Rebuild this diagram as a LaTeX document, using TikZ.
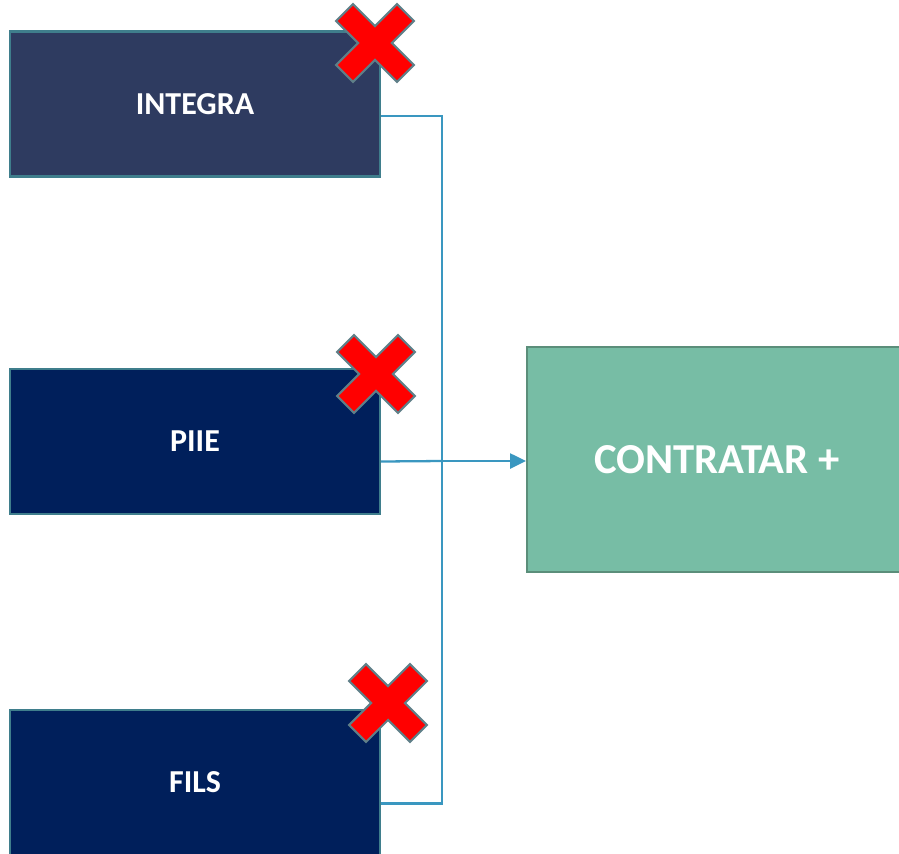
\documentclass[tikz,border=0pt]{standalone}
\usepackage{fontspec}
\setmainfont{Carlito}
\usetikzlibrary{arrows.meta,calc}
\definecolor{slatenavy}{HTML}{2E3B60}
\definecolor{deepnavy}{HTML}{001F5B}
\definecolor{boxedge}{HTML}{3F7E8C}
\definecolor{mint}{HTML}{77BDA5}
\definecolor{mintedge}{HTML}{5B8E7A}
\definecolor{linkblue}{HTML}{3A97C0}
\definecolor{markedge}{HTML}{5F7F88}
\tikzset{
  source/.style={draw=boxedge, line width=1.2pt, inner sep=0pt,
    minimum width=7.4cm, minimum height=2.9cm, text=white,
    font=\bfseries\fontsize{18.2}{20}\selectfont},
  target/.style={draw=mintedge, fill=mint, line width=1.2pt, inner sep=0pt,
    minimum width=7.6cm, minimum height=4.5cm, text=white,
    font=\bfseries\fontsize{24.3}{27}\selectfont},
  link/.style={draw=linkblue, line width=1.3pt},
  xmark/.style={fill=red, draw=markedge, line width=1.2pt, line join=miter}
}
\begin{document}
\begin{tikzpicture}[x=0.02cm,y=-0.02cm]
\useasboundingbox (0,0) rectangle (899,853);

\node[source, fill=slatenavy] (integra) at (195,104) {INTEGRA};
\node[source, fill=deepnavy] (piie) at (195,441.5) {PIIE};
\node[source, fill=deepnavy] (fils) at (195,782.5) {FILS};
\node[target] (contratar) at (717,459.5) {CONTRATAR +};

\coordinate (bus) at (442,461);
\draw[link] ($(integra.east)+(0,12)$) -| (bus) |- ($(fils.east)+(0,21)$);
\draw[link] ($(piie.east)+(0,20)$) -- (bus);
\draw[link, -{Triangle[length=9pt,width=8.5pt]}] (bus) -- (contratar.west |- bus);

% red crosses
\foreach \cx/\cy in {375/43,376/374,388/703}
{
\begin{scope}[shift={(\cx,\cy)},rotate=45]
\draw[xmark] (43,12) -- (43,-12) -- (12,-12) -- (12,-43) -- (-12,-43) -- (-12,-12)
  -- (-43,-12) -- (-43,12) -- (-12,12) -- (-12,43) -- (12,43) -- (12,12) -- cycle;
\end{scope}
}
\end{tikzpicture}
\end{document}
